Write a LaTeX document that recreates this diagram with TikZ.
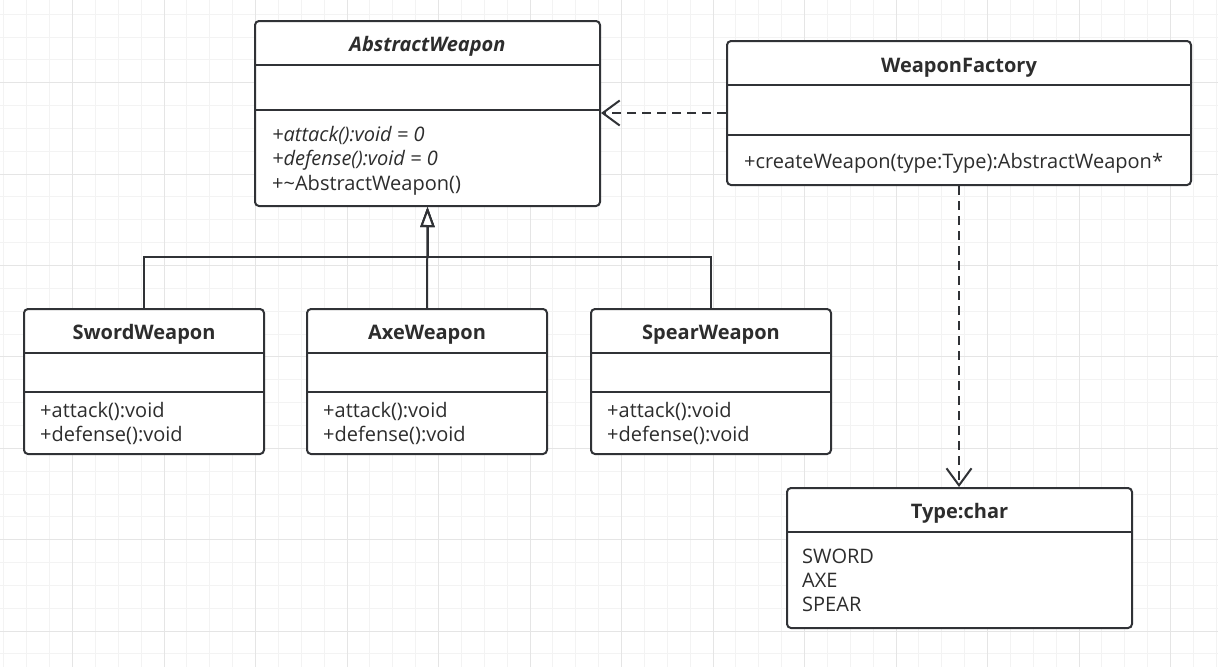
\documentclass[tikz,border=0pt]{standalone}
\usepackage{fontspec}
\setmainfont{Open Sans}
\usetikzlibrary{arrows.meta}

\definecolor{linec}{RGB}{48,50,54}
\definecolor{textc}{RGB}{45,45,45}
\definecolor{gridmin}{RGB}{243,243,243}
\definecolor{gridmaj}{RGB}{229,229,229}

\begin{document}
\begin{tikzpicture}[x=1pt,y=-1pt,
    cls/.style={draw=linec, line width=2pt, rounded corners=4pt, fill=white, inner sep=0pt},
    cline/.style={draw=linec, line width=2pt},
    ctitle/.style={font=\fontsize{20}{24}\selectfont\bfseries, text=textc, anchor=base, inner sep=0pt},
    cbody/.style={font=\fontsize{20}{24}\selectfont, text=textc, anchor=base west, inner sep=0pt},
    gen/.style={draw=linec, line width=2pt, -{Triangle[fill=white, length=20pt, width=14pt]}},
    dep/.style={draw=linec, line width=2pt, dash pattern=on 9pt off 6pt, -{Straight Barb[length=17pt, width=25pt]}}]

        \useasboundingbox (0,0) rectangle (1218,667);
        \fill[white] (0,0) rectangle (1218,667);

        % grid
        \foreach \i in {0,...,54}
            \draw[gridmin, line width=1pt] ({-18.9+22.875*\i},0) -- ({-18.9+22.875*\i},667);
        \foreach \j in {0,...,29}
            \draw[gridmin, line width=1pt] (0,{-8.7+22.85*\j}) -- (1218,{-8.7+22.85*\j});
        \foreach \i in {0,...,13}
            \draw[gridmaj, line width=1pt] ({-18.8+91.5*\i},0) -- ({-18.8+91.5*\i},667);
        \foreach \j in {0,...,7}
            \draw[gridmaj, line width=1pt] (0,{-8.7+91.4*\j}) -- (1218,{-8.7+91.4*\j});

        % classes
        \node[cls, minimum width=345pt, minimum height=185pt] (abs) at (427.5,113.5) {};
        \node[cls, minimum width=464pt, minimum height=144pt] (fac) at (959,113) {};
        \node[cls, minimum width=240pt, minimum height=145pt] (sword) at (144,381.5) {};
        \node[cls, minimum width=240pt, minimum height=145pt] (axe) at (427,381.5) {};
        \node[cls, minimum width=240pt, minimum height=145pt] (spear) at (711,381.5) {};
        \node[cls, minimum width=345pt, minimum height=140pt] (type) at (959.5,558) {};

        \draw[cline] ([yshift=-45pt]abs.north west) -- ([yshift=-45pt]abs.north east);
        \draw[cline] ([yshift=-90pt]abs.north west) -- ([yshift=-90pt]abs.north east);
        \draw[cline] ([yshift=-44.7pt]fac.north west) -- ([yshift=-44.7pt]fac.north east);
        \draw[cline] ([yshift=-95pt]fac.north west) -- ([yshift=-95pt]fac.north east);
        \foreach \c in {sword,axe,spear} {
            \draw[cline] ([yshift=-45pt]\c.north west) -- ([yshift=-45pt]\c.north east);
            \draw[cline] ([yshift=-84.3pt]\c.north west) -- ([yshift=-84.3pt]\c.north east);
        }
        \draw[cline] ([yshift=-44.7pt]type.north west) -- ([yshift=-44.7pt]type.north east);

        % texts
        \node[ctitle] (abs-t) at (427.5,51.7) {\textit{AbstractWeapon}};
        \node[cbody] (abs-m1) at (272,141.7) {\textit{+attack():void = 0}};
        \node[cbody] (abs-m2) at (272,165.9) {\textit{+defense():void = 0}};
        \node[cbody] (abs-m3) at (272,190.1) {+\textasciitilde AbstractWeapon()};

        \node[ctitle] (fac-t) at (959,72.7) {WeaponFactory};
        \node[cbody] (fac-m1) at (744,168.3) {+createWeapon(type:Type):AbstractWeapon*};

        \node[ctitle] (sword-t) at (144,339) {SwordWeapon};
        \node[cbody] (sword-m1) at (40,417.7) {+attack():void};
        \node[cbody] (sword-m2) at (40,441.7) {+defense():void};

        \node[ctitle] (axe-t) at (427,339) {AxeWeapon};
        \node[cbody] (axe-m1) at (323,417.7) {+attack():void};
        \node[cbody] (axe-m2) at (323,441.7) {+defense():void};

        \node[ctitle] (spear-t) at (711,339) {SpearWeapon};
        \node[cbody] (spear-m1) at (607,417.7) {+attack():void};
        \node[cbody] (spear-m2) at (607,441.7) {+defense():void};

        \node[ctitle] (type-t) at (959.5,518.3) {Type:char};
        \node[cbody] (type-v1) at (802,563.3) {SWORD};
        \node[cbody] (type-v2) at (802,587.5) {AXE};
        \node[cbody] (type-v3) at (802,611.7) {SPEAR};

        % relations
        \coordinate (joint) at (427.5,257.3);
        \draw[gen] (sword.north) |- (joint) -- (abs.south);
        \draw[gen] (spear.north) |- (joint) -- (abs.south);
        \draw[gen] (axe.north) -- (abs.south);

        \draw[dep] (fac.west) -- (abs.east |- fac.west);
        \draw[dep] (fac.south) -- (fac.south |- type.north);

\end{tikzpicture}
\end{document}
